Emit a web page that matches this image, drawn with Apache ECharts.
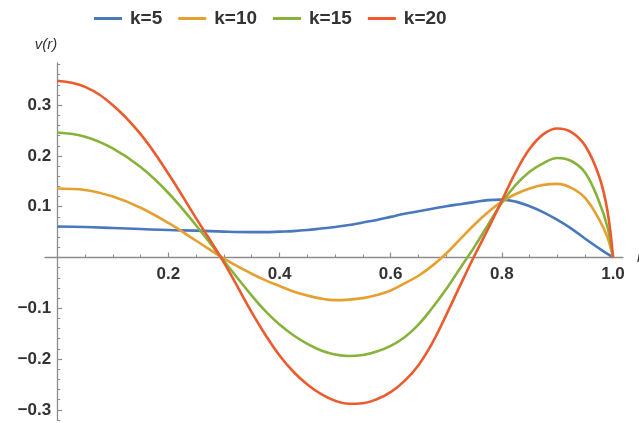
<!DOCTYPE html>
<html><head><meta charset="utf-8">
<script src="https://cdn.jsdelivr.net/npm/echarts@6/dist/echarts.min.js"></script>
<style>html,body{margin:0;padding:0;background:#fff}#c{width:639px;height:423px}</style>
</head><body><div id="c"></div>
<script>
// radius values
const r = [0, 0.05, 0.1, 0.15, 0.2, 0.25, 0.3, 0.35, 0.375, 0.4, 0.425, 0.45, 0.475, 0.5, 0.525, 0.55, 0.575, 0.6, 0.625, 0.65, 0.675, 0.7, 0.725, 0.75, 0.775, 0.8, 0.825, 0.85, 0.875, 0.9, 0.925, 0.95, 0.975, 0.99, 1.0];
// v(r)
const k5  = [0.061, 0.060, 0.058, 0.056, 0.054, 0.053, 0.051, 0.050, 0.050, 0.051, 0.052, 0.054, 0.057, 0.060, 0.064, 0.069, 0.074, 0.080, 0.086, 0.091, 0.096, 0.101, 0.105, 0.109, 0.113, 0.114, 0.110, 0.101, 0.089, 0.074, 0.057, 0.037, 0.018, 0.007, 0];
const k10 = [0.136, 0.133, 0.120, 0.098, 0.068, 0.033, -0.002, -0.032, -0.045, -0.056, -0.067, -0.075, -0.081, -0.084, -0.083, -0.080, -0.074, -0.065, -0.051, -0.036, -0.016, 0.008, 0.036, 0.064, 0.089, 0.110, 0.125, 0.136, 0.143, 0.145, 0.137, 0.117, 0.075, 0.040, 0];
const k15 = [0.246, 0.238, 0.215, 0.178, 0.127, 0.063, -0.007, -0.075, -0.106, -0.132, -0.153, -0.170, -0.183, -0.191, -0.194, -0.192, -0.185, -0.174, -0.157, -0.132, -0.099, -0.062, -0.021, 0.020, 0.064, 0.108, 0.143, 0.169, 0.186, 0.196, 0.190, 0.167, 0.110, 0.060, 0];
const k20 = [0.348, 0.336, 0.300, 0.243, 0.165, 0.077, -0.010, -0.108, -0.153, -0.193, -0.225, -0.250, -0.269, -0.282, -0.288, -0.287, -0.279, -0.265, -0.243, -0.212, -0.168, -0.113, -0.055, 0.002, 0.056, 0.112, 0.168, 0.214, 0.243, 0.254, 0.247, 0.220, 0.160, 0.092, 0];
const seriesNames = ['k=5', 'k=10', 'k=15', 'k=20'];
const seriesValues = [k5, k10, k15, k20];
const colors = ['#4a78bd', '#e5a030', '#87b33a', '#ec5b2e'];
// ticks
const xMajorTicks = [0.2, 0.4, 0.6, 0.8, 1.0];
const xMinorTicks = [0.05, 0.1, 0.15, 0.25, 0.3, 0.35, 0.45, 0.5, 0.55, 0.65, 0.7, 0.75, 0.85, 0.9, 0.95];
const yMajorTicks = [-0.3, -0.2, -0.1, 0.1, 0.2, 0.3];
const yMinorTicks = [-0.32, -0.28, -0.26, -0.24, -0.22, -0.18, -0.16, -0.14, -0.12, -0.08, -0.06, -0.04, -0.02,
  0.02, 0.04, 0.06, 0.08, 0.12, 0.14, 0.16, 0.18, 0.22, 0.24, 0.26, 0.28, 0.32, 0.34, 0.36, 0.38];

const axisColor = '#8c8c8c';
const labelColor = '#333';
const xMin = -0.022, xMax = 1.018, yMin = -0.32, yMax = 0.383;
const W = 639, H = 423;
const gL = 45, gR = 16, gT = 63, gB = 3;
// pixel positions of the zero lines, derived from the data grid and axis ranges
const gridH = H - gT - gB, gridW = W - gL - gR;
const zeroYpx = gT + gridH * (yMax / (yMax - yMin));
const zeroXpx = gL + gridW * ((0 - xMin) / (xMax - xMin));

const chart = echarts.init(document.getElementById('c'), null, {renderer: 'canvas'});
const fmtY = v => (v < 0 ? '\u2212' : '') + Math.abs(v).toFixed(1);
const font = 'Liberation Sans';
const hidden = {show: false};
chart.setOption({
  animation: false,
  color: colors,
  legend: {
    left: 94, top: 9, padding: 0,
    icon: 'rect',
    itemWidth: 28, itemHeight: 3, itemGap: 16,
    textStyle: {fontSize: 19, fontWeight: 'bold', color: labelColor, fontFamily: font, padding: [0, 0, 0, 3]},
    data: seriesNames
  },
  grid: [
    {left: gL, right: gR, top: gT, bottom: gB, outerBoundsMode: 'none'},
    {left: gL, right: gR, top: gT, bottom: H - zeroYpx, outerBoundsMode: 'none'},
    {left: zeroXpx, right: gR, top: gT, bottom: gB, outerBoundsMode: 'none'}
  ],
  xAxis: [
    {gridIndex: 0, type: 'value', min: xMin, max: xMax, show: false},
    {
      gridIndex: 1, type: 'value', min: xMin, max: xMax, position: 'bottom',
      name: 'r', nameLocation: 'end', nameGap: 14,
      nameTextStyle: {fontSize: 15, fontStyle: 'italic', color: labelColor, fontFamily: font, verticalAlign: 'middle'},
      axisLine: {onZero: false, lineStyle: {color: axisColor, width: 1.3}},
      axisTick: {show: true, inside: true, length: 5, customValues: xMajorTicks, lineStyle: {color: axisColor, width: 1.2}},
      axisLabel: {customValues: xMajorTicks, margin: 8, fontSize: 17, fontWeight: 'bold', color: labelColor, fontFamily: font, formatter: v => v.toFixed(1)},
      splitLine: hidden
    },
    {
      gridIndex: 1, type: 'value', min: xMin, max: xMax, position: 'bottom',
      axisLine: {show: false, onZero: false},
      axisTick: {show: true, inside: true, length: 3, customValues: xMinorTicks, lineStyle: {color: axisColor, width: 1}},
      axisLabel: hidden, splitLine: hidden
    },
    {gridIndex: 2, type: 'value', min: 0, max: xMax, show: false}
  ],
  yAxis: [
    {gridIndex: 0, type: 'value', min: yMin, max: yMax, show: false},
    {gridIndex: 1, type: 'value', min: 0, max: yMax, show: false},
    {
      gridIndex: 2, type: 'value', min: yMin, max: yMax, position: 'left',
      name: 'v(r)', nameLocation: 'end', nameGap: 11,
      nameTextStyle: {fontSize: 15, fontStyle: 'italic', color: labelColor, fontFamily: font, align: 'right'},
      axisLine: {show: true, onZero: false, lineStyle: {color: axisColor, width: 1.3}},
      axisTick: {show: true, inside: true, length: 5, customValues: yMajorTicks, lineStyle: {color: axisColor, width: 1.2}},
      axisLabel: {customValues: yMajorTicks, margin: 6, fontSize: 17, fontWeight: 'bold', color: labelColor, fontFamily: font, formatter: fmtY},
      splitLine: hidden
    },
    {
      gridIndex: 2, type: 'value', min: yMin, max: yMax, position: 'left',
      axisLine: {show: false, onZero: false},
      axisTick: {show: true, inside: true, length: 3, customValues: yMinorTicks, lineStyle: {color: axisColor, width: 1}},
      axisLabel: hidden, splitLine: hidden
    }
  ],
  series: seriesNames.map((name, i) => ({
    name: name,
    type: 'line',
    xAxisIndex: 0, yAxisIndex: 0,
    smooth: 0.4,
    symbol: 'none',
    lineStyle: {width: 2.6, color: colors[i]},
    itemStyle: {color: colors[i]},
    data: r.map((x, j) => [x, seriesValues[i][j]])
  }))
});
</script></body></html>
